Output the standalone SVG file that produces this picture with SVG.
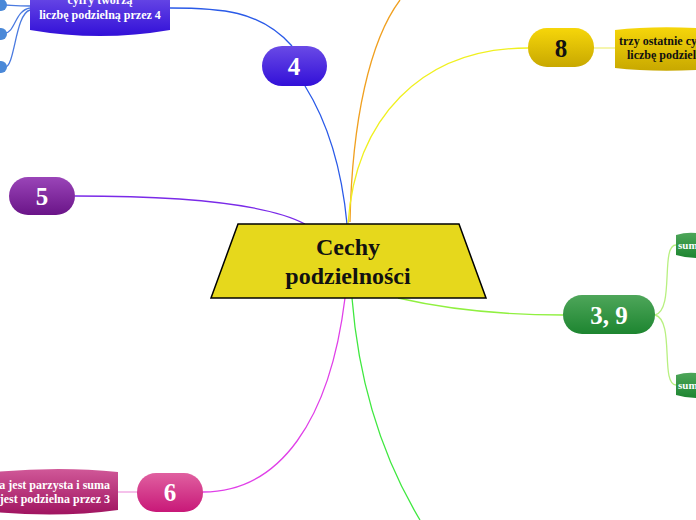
<svg xmlns="http://www.w3.org/2000/svg" width="696" height="520" viewBox="0 0 696 520">
<defs>
<linearGradient id="gB" x1="0" y1="0" x2="0" y2="1"><stop offset="0" stop-color="#6a4ae6"/><stop offset="1" stop-color="#3210d8"/></linearGradient>
<linearGradient id="gP" x1="0" y1="0" x2="0" y2="1"><stop offset="0" stop-color="#9a45b8"/><stop offset="1" stop-color="#6a1488"/></linearGradient>
<linearGradient id="gY" x1="0" y1="0" x2="0" y2="1"><stop offset="0" stop-color="#f6d60a"/><stop offset="1" stop-color="#c8a800"/></linearGradient>
<linearGradient id="gG" x1="0" y1="0" x2="0" y2="1"><stop offset="0" stop-color="#4ea65a"/><stop offset="1" stop-color="#1d8530"/></linearGradient>
<linearGradient id="gM" x1="0" y1="0" x2="0" y2="1"><stop offset="0" stop-color="#e060a0"/><stop offset="1" stop-color="#c81878"/></linearGradient>
<linearGradient id="gM2" x1="0" y1="0" x2="0" y2="1"><stop offset="0" stop-color="#d05898"/><stop offset="1" stop-color="#a01460"/></linearGradient>
</defs>
<style>
.c{fill:none;stroke-width:1.3}
.n{font-family:"Liberation Serif",serif;font-weight:bold;font-size:25px;text-anchor:middle}
.t{font-family:"Liberation Serif",serif;font-weight:bold;font-size:12px;text-anchor:middle}
</style>
<g id="connectors">
<path class="c" stroke="#2a5ae8" d="M347 224 C340 150 320 110 305 86"/>
<path class="c" stroke="#2a5ae8" d="M292 46 C260 10 220 8 170 8"/>
<path class="c" stroke="#4a7ae0" d="M30 6 C15 6 10 5 5 5 M30 8 C15 10 15 33 5 33 M30 10 C15 14 15 67 5 67"/>
<path class="c" stroke="#7a2ae8" d="M305 224 C260 200 150 196 75 196"/>
<path class="c" stroke="#f0a020" d="M350 222 C352 120 370 40 400 0"/>
<path class="c" stroke="#f0f020" d="M348 224 C355 120 420 48 528 48"/>
<path class="c" stroke="#f0f080" d="M594 48 L615 48"/>
<path class="c" stroke="#90f040" d="M398 298 C450 310 500 315 563 315"/>
<path class="c" stroke="#b8f080" d="M655 315 C675 310 660 245 676 245 M655 315 C675 320 660 385 676 385"/>
<path class="c" stroke="#40e840" d="M352 298 C360 400 390 470 420 520"/>
<path class="c" stroke="#e040e8" d="M345 298 C330 420 280 492 203 492"/>
<path class="c" stroke="#f0a0e0" d="M137 492 L118 492"/>
</g>
<g id="center"><polygon points="238,224 459,224 486,298 211,298" fill="#e6d81c" stroke="#000" stroke-width="1.5"/>
<text class="n" x="348" y="255" style="font-size:24px" fill="#111">Cechy</text><text class="n" x="348" y="284" style="font-size:24px" fill="#111">podzielności</text></g>
<g id="n4"><rect x="262" y="46" width="65" height="40" rx="20" fill="url(#gB)"/><text class="n" x="294" y="75" fill="#fff">4</text></g>
<g id="t4"><path d="M30 -5 H170 V30 Q100 42 30 30 Z" fill="url(#gB)"/><text class="t" x="100" y="4" fill="#fff">cyfry tworzą</text><text class="t" x="100" y="19" fill="#fff">liczbę podzielną przez 4</text></g>
<g id="dots" fill="#4a88d8"><ellipse cx="1" cy="5" rx="6" ry="6"/><ellipse cx="1" cy="34" rx="6" ry="6"/><ellipse cx="1" cy="67" rx="6" ry="6"/></g>
<g id="n5"><rect x="9" y="177" width="66" height="38" rx="19" fill="url(#gP)"/><text class="n" x="42" y="205" fill="#fff">5</text></g>
<g id="n8"><rect x="528" y="28" width="66" height="39" rx="19" fill="url(#gY)"/><text class="n" x="561" y="57" fill="#111">8</text></g>
<g id="t8"><path d="M615 30 Q650 26 696 28 V70 Q650 72 615 68 Z" fill="url(#gY)"/><text class="t" x="619" y="45" fill="#111" style="text-anchor:start">trzy ostatnie cyfry</text><text class="t" x="627" y="59" fill="#111" style="text-anchor:start">liczbę podzielną</text></g>
<g id="n39"><rect x="563" y="295" width="92" height="39" rx="19" fill="url(#gG)"/><text class="n" x="609" y="324" fill="#fff">3, 9</text></g>
<g id="g1"><path d="M676 235 Q686 232 696 233 V258 Q686 258 676 255 Z" fill="url(#gG)"/><text class="t" x="678" y="249" fill="#fff" style="text-anchor:start;font-size:11px">suma</text></g>
<g id="g2"><path d="M676 375 Q686 372 696 373 V398 Q686 398 676 395 Z" fill="url(#gG)"/><text class="t" x="678" y="389" fill="#fff" style="text-anchor:start;font-size:11px">suma</text></g>
<g id="n6"><rect x="137" y="473" width="66" height="39" rx="19" fill="url(#gM)"/><text class="n" x="170" y="501" fill="#fff">6</text></g>
<g id="t6"><path d="M-5 472 Q60 466 118 472 V510 Q60 518 -5 512 Z" fill="url(#gM2)"/><text class="t" x="110" y="489" fill="#fff" style="text-anchor:end">liczba jest parzysta i suma</text><text class="t" x="110" y="503" fill="#fff" style="text-anchor:end">cyfr jest podzielna przez 3</text></g>
</svg>
